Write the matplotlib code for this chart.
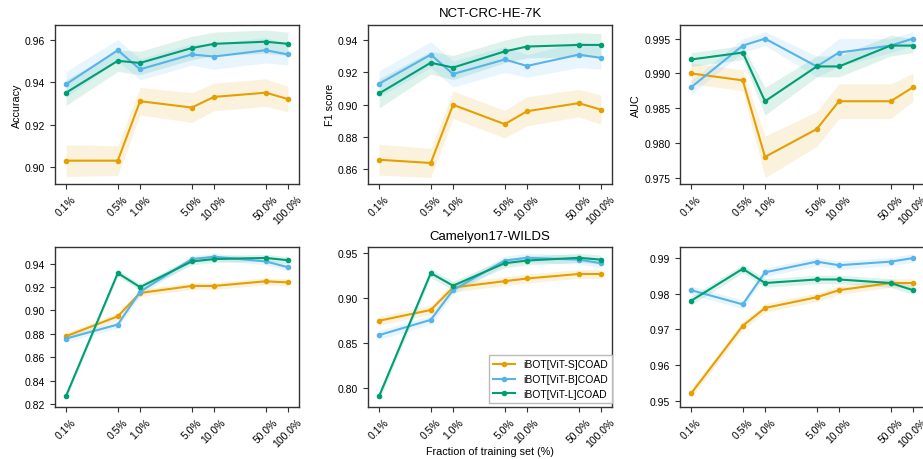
import matplotlib.pyplot as plt
import numpy as np

plt.rcParams['font.family'] = ['Liberation Sans', 'DejaVu Sans']
plt.rcParams['font.size'] = 7.5

fractions = [0.1, 0.5, 1.0, 5.0, 10.0, 50.0, 100.0]
tick_labels = ['0.1%', '0.5%', '1.0%', '5.0%', '10.0%', '50.0%', '100.0%']
models = ['iBOT[ViT-S]COAD', 'iBOT[ViT-B]COAD', 'iBOT[ViT-L]COAD']
colors = ['#E69F00', '#56B4E9', '#009E73']

# NCT-CRC-HE-7K
nct_acc = [[0.903, 0.903, 0.931, 0.928, 0.933, 0.935, 0.932],
           [0.939, 0.955, 0.946, 0.953, 0.952, 0.955, 0.953],
           [0.935, 0.950, 0.949, 0.956, 0.958, 0.959, 0.958]]
nct_acc_sd = [[0.0075, 0.007, 0.0065, 0.007, 0.0065, 0.0065, 0.006],
              [0.006, 0.005, 0.005, 0.005, 0.006, 0.006, 0.005],
              [0.006, 0.005, 0.0055, 0.0055, 0.0055, 0.0055, 0.0055]]
nct_f1 = [[0.866, 0.864, 0.900, 0.888, 0.896, 0.901, 0.897],
          [0.913, 0.931, 0.919, 0.928, 0.924, 0.931, 0.929],
          [0.907, 0.926, 0.923, 0.933, 0.936, 0.937, 0.937]]
nct_f1_sd = [[0.0095, 0.009, 0.0085, 0.0085, 0.009, 0.0085, 0.009],
             [0.008, 0.008, 0.008, 0.008, 0.007, 0.008, 0.007],
             [0.009, 0.007, 0.0075, 0.007, 0.007, 0.0075, 0.007]]
nct_auc = [[0.990, 0.989, 0.978, 0.982, 0.986, 0.986, 0.988],
           [0.988, 0.994, 0.995, 0.991, 0.993, 0.994, 0.995],
           [0.992, 0.993, 0.986, 0.991, 0.991, 0.994, 0.994]]
nct_auc_sd = [[0.0015, 0.0015, 0.003, 0.0025, 0.0025, 0.0025, 0.002],
              [0.001, 0.001, 0.001, 0.0015, 0.002, 0.001, 0.001],
              [0.001, 0.001, 0.002, 0.0015, 0.0015, 0.0015, 0.001]]

# Camelyon17-WILDS
cam_acc = [[0.878, 0.895, 0.915, 0.921, 0.921, 0.925, 0.924],
           [0.876, 0.888, 0.916, 0.944, 0.946, 0.942, 0.937],
           [0.827, 0.932, 0.920, 0.942, 0.944, 0.945, 0.943]]
cam_f1 = [[0.875, 0.887, 0.912, 0.919, 0.922, 0.927, 0.927],
          [0.859, 0.876, 0.909, 0.942, 0.945, 0.943, 0.939],
          [0.791, 0.928, 0.914, 0.939, 0.942, 0.945, 0.943]]
cam_auc = [[0.952, 0.971, 0.976, 0.979, 0.981, 0.983, 0.983],
           [0.981, 0.977, 0.986, 0.989, 0.988, 0.989, 0.990],
           [0.978, 0.987, 0.983, 0.984, 0.984, 0.983, 0.981]]
cam_acc_sd = [0.003, 0.003, 0.003]
cam_f1_sd = [0.005, 0.005, 0.005]
cam_auc_sd = [0.0012, 0.0012, 0.0012]

fig = plt.figure(figsize=(9.23, 4.6), dpi=100)

lefts = [0.0596, 0.3987, 0.7367]
w = 0.2644
rows = [(0.5978, 0.3463), (0.1130, 0.3478)]

panels = [
    (0, 0, nct_acc, nct_acc_sd, (0.892, 0.967), [0.90, 0.92, 0.94, 0.96], '{:.2f}', 'Accuracy'),
    (0, 1, nct_f1, nct_f1_sd, (0.851, 0.9495), [0.86, 0.88, 0.90, 0.92, 0.94], '{:.2f}', 'F1 score'),
    (0, 2, nct_auc, nct_auc_sd, (0.9741, 0.997), [0.975, 0.980, 0.985, 0.990, 0.995], '{:.3f}', 'AUC'),
    (1, 0, cam_acc, cam_acc_sd, (0.8174, 0.9543), [0.82, 0.84, 0.86, 0.88, 0.90, 0.92, 0.94], '{:.2f}', None),
    (1, 1, cam_f1, cam_f1_sd, (0.779, 0.957), [0.80, 0.85, 0.90, 0.95], '{:.2f}', None),
    (1, 2, cam_auc, cam_auc_sd, (0.9482, 0.9931), [0.95, 0.96, 0.97, 0.98, 0.99], '{:.2f}', None),
]

axes = {}
for r, c, vals, sds, ylim, yticks, fmt, ylabel in panels:
    ax = fig.add_axes([lefts[c], rows[r][0], w, rows[r][1]])
    axes[(r, c)] = ax
    for i in range(3):
        y = np.array(vals[i])
        sd = np.array(sds[i]) if np.ndim(sds[i]) else np.full(len(y), sds[i])
        ax.fill_between(fractions, y - sd, y + sd, color=colors[i], alpha=0.13, lw=0)
        ax.plot(fractions, y, color=colors[i], marker='o', ms=3, lw=1.5, label=models[i])
    ax.set_xscale('log')
    ax.set_xticks(fractions)
    ax.set_xticklabels(tick_labels, rotation=45, ha='center', va='top')
    ax.minorticks_off()
    ax.set_ylim(ylim)
    ax.set_yticks(yticks)
    ax.set_yticklabels([fmt.format(t) for t in yticks])
    ax.tick_params(labelsize=7.5, length=3.5, color='#333333')
    for s in ax.spines.values():
        s.set_color('#333333')
        s.set_linewidth(1.0)
    if ylabel:
        ax.set_ylabel(ylabel, fontsize=7.75, labelpad=2)

axes[(0, 1)].set_title('NCT-CRC-HE-7K', fontsize=9.5, pad=6)
axes[(1, 1)].set_title('Camelyon17-WILDS', fontsize=9.5, pad=6)
# x label placed in figure coords below the middle bottom panel
fig.text(lefts[1] + w / 2, 0.017, 'Fraction of training set (%)', fontsize=7.75,
         ha='center', va='center')
axes[(1, 1)].legend(loc='lower right', bbox_to_anchor=(1.0, 0.025), borderaxespad=0,
                    fontsize=7.5, frameon=True, fancybox=False, edgecolor='#bbbbbb',
                    framealpha=1, handlelength=2.1, labelspacing=0.45)

fig.savefig('out.png', dpi=100)
